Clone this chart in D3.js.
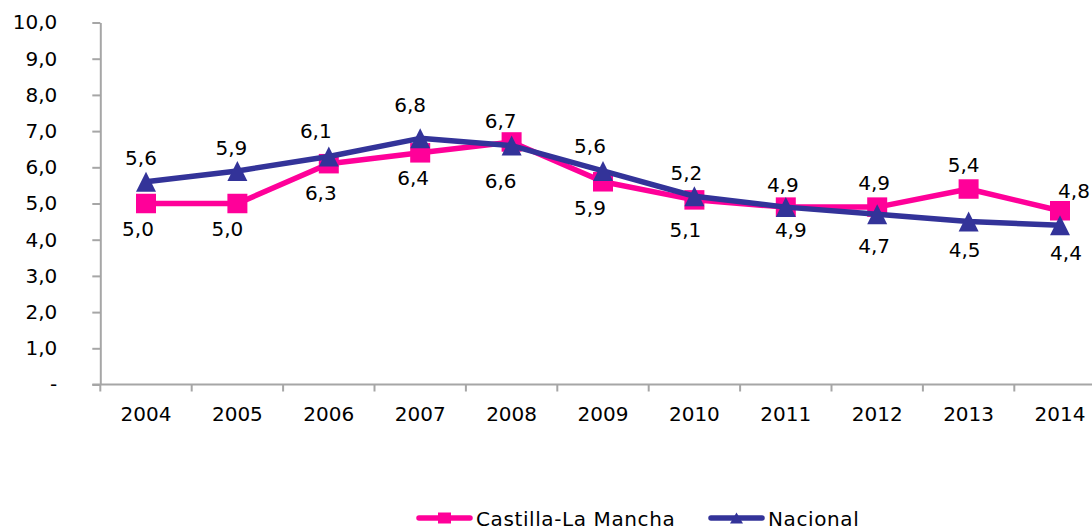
<!DOCTYPE html>
<html>
<head>
<meta charset="utf-8">
<script src="https://cdn.jsdelivr.net/npm/d3@7"></script>
<style>
  html, body { margin: 0; padding: 0; background: #fff; overflow: hidden; }
  svg { display: block; font-family: "DejaVu Sans", Verdana, sans-serif; }
</style>
</head>
<body>
<svg id="chart" width="1092" height="529"></svg>
<script>
// Years on the category axis
const years = ["2004", "2005", "2006", "2007", "2008", "2009", "2010", "2011", "2012", "2013", "2014"];
// Series values
const castillaLaMancha = [5.0, 5.0, 6.1, 6.4, 6.7, 5.6, 5.1, 4.9, 4.9, 5.4, 4.8];
const nacional = [5.6, 5.9, 6.3, 6.8, 6.6, 5.9, 5.2, 4.9, 4.7, 4.5, 4.4];
// Which side of the pair of points each series' label sits on, per year
const clmLabelSide = ["below", "below", "above", "below", "above", "above", "below", "above", "above", "above", "above"];
const nacLabelSide = ["above", "above", "below", "above", "below", "below", "above", "below", "below", "below", "below"];
// Value axis ticks
const yTicks = [0, 1, 2, 3, 4, 5, 6, 7, 8, 9, 10];

// Hand-placed label offsets (px) per year: above labels hang off the higher point, below labels off the lower one
const aboveDy = [-17, -16, -18, -26, -14, -18, -16, -15, -17, -17, -13];
const belowDy = [32, 32, 36, 32, 42, 33, 37, 30, 39, 35, 35];
const aboveDx = [-5, -6, -13, -10, -11, -13, -8, -3, -3, -5, 14];
const belowDx = [-8, -10, -8, -7, -11, -13, -9, 5, -3, -4, 6];

const svg = d3.select("#chart");
const fontSize = 20;
const fmt = v => v === 0 ? "-" : v.toFixed(1).replace(".", ",");

const plotLeft = 100.3, plotTop = 22.5, plotBottom = 384.5, band = 91.4;
const x = d3.scaleBand().domain(years).range([plotLeft, plotLeft + band * years.length]);
const y = d3.scaleLinear().domain([0, 10]).range([plotBottom, plotTop]);
const cx = d => x(d) + x.bandwidth() / 2;

const axisColor = "#a6a6a6";

// Value axis
const yAxis = svg.append("g").attr("transform", `translate(${plotLeft},0)`)
  .call(d3.axisLeft(y).tickValues(yTicks).tickSize(8).tickPadding(35).tickSizeOuter(0).tickFormat(fmt));
yAxis.select(".domain").attr("stroke", axisColor).attr("stroke-width", 2);
yAxis.selectAll(".tick line").attr("stroke", axisColor).attr("stroke-width", 2);
yAxis.selectAll(".tick text").attr("font-size", fontSize).attr("font-family", "DejaVu Sans, Verdana, sans-serif").attr("fill", "#000");

// Category axis with ticks on the band boundaries
const xAxisG = svg.append("g").attr("transform", `translate(0,${plotBottom})`);
xAxisG.append("line").attr("x1", plotLeft - 8).attr("x2", plotLeft + band * years.length)
  .attr("stroke", axisColor).attr("stroke-width", 2);
xAxisG.selectAll("line.tk").data(d3.range(years.length + 1)).enter().append("line")
  .attr("class", "tk")
  .attr("x1", i => plotLeft + i * x.step()).attr("x2", i => plotLeft + i * x.step())
  .attr("y1", 0).attr("y2", 7).attr("stroke", axisColor).attr("stroke-width", 2);
xAxisG.selectAll("text").data(years).enter().append("text")
  .attr("x", d => cx(d)).attr("y", 36).attr("text-anchor", "middle")
  .attr("font-size", fontSize).attr("fill", "#000").text(d => d);

// Marker shapes centred on their bounding box
const squareShape = (w, h) => ({ draw(ctx) { ctx.rect(-w / 2, -h / 2, w, h); } });
const triangleShape = (w, h) => ({ draw(ctx) { ctx.moveTo(0, -h / 2); ctx.lineTo(w / 2, h / 2); ctx.lineTo(-w / 2, h / 2); ctx.closePath(); } });

const series = [
  { name: "Castilla-La Mancha", values: castillaLaMancha, color: "#FF0099", shape: squareShape(20, 19.5), legendShape: squareShape(13, 11), sides: clmLabelSide },
  { name: "Nacional", values: nacional, color: "#333399", shape: triangleShape(20, 20), legendShape: triangleShape(13, 11), sides: nacLabelSide }
];

const line = d3.line().x((d, i) => cx(years[i])).y(d => y(d));

series.forEach(s => {
  svg.append("path").datum(s.values).attr("d", line)
    .attr("fill", "none").attr("stroke", s.color).attr("stroke-width", 5.5).attr("stroke-linejoin", "round");
  svg.selectAll(null).data(s.values).enter().append("path")
    .attr("d", d3.symbol().type(s.shape)())
    .attr("transform", (d, i) => `translate(${cx(years[i])},${y(d)})`)
    .attr("fill", s.color);
});

// Data labels
series.forEach(s => {
  svg.selectAll(null).data(s.values).enter().append("text")
    .attr("x", (d, i) => cx(years[i]) + (s.sides[i] === "above" ? aboveDx[i] : belowDx[i]))
    .attr("y", (d, i) => {
      const ys = [y(castillaLaMancha[i]), y(nacional[i])];
      return s.sides[i] === "above" ? Math.min(...ys) + aboveDy[i] : Math.max(...ys) + belowDy[i];
    })
    .attr("text-anchor", "middle").attr("font-size", fontSize).attr("fill", "#000")
    .text(d => fmt(d));
});

// Legend
const legendItems = [
  { s: series[0], x0: 417 },
  { s: series[1], x0: 709 }
];
legendItems.forEach(({ s, x0 }) => {
  const g = svg.append("g").attr("transform", `translate(${x0},518)`);
  g.append("line").attr("x1", 2).attr("x2", 53).attr("stroke", s.color).attr("stroke-width", 5.5).attr("stroke-linecap", "round");
  g.append("path").attr("d", d3.symbol().type(s.legendShape)())
    .attr("transform", "translate(27.5,0)").attr("fill", s.color);
  g.append("text").attr("x", 59).attr("y", 7.5).attr("font-size", fontSize)
    .attr("letter-spacing", 0.6).attr("fill", "#000").text(s.name);
});
</script>
</body>
</html>
